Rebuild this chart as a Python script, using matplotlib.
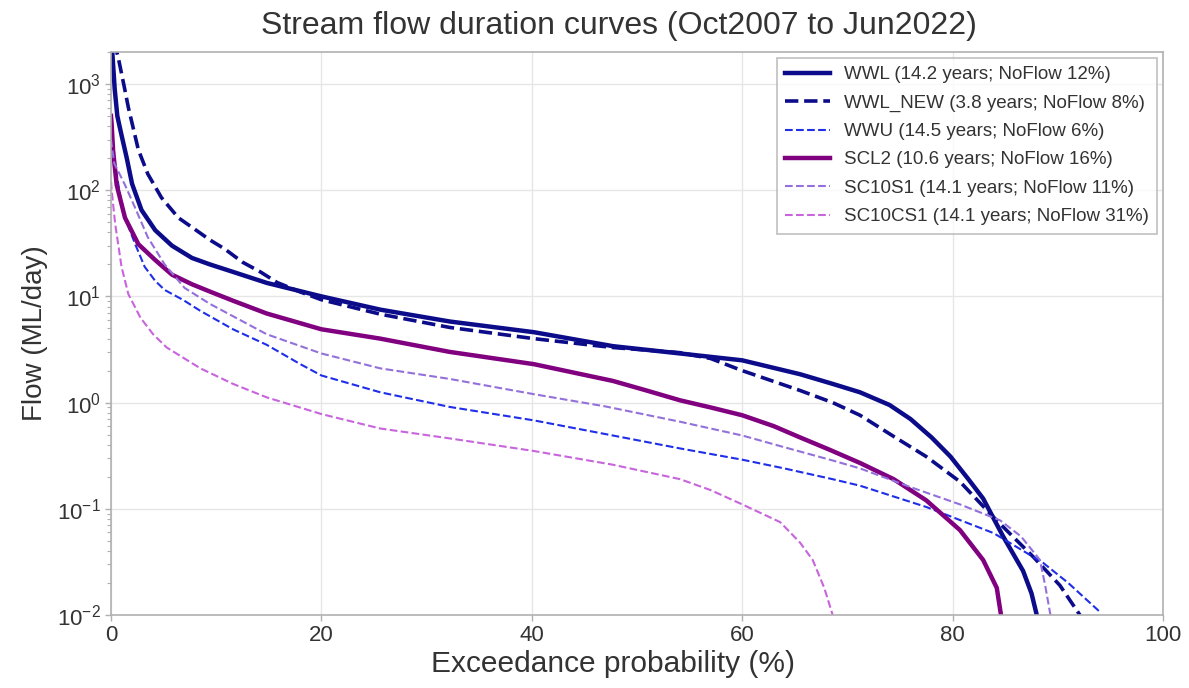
import matplotlib
matplotlib.use("Agg")
import matplotlib.pyplot as plt
from matplotlib.ticker import LogLocator, NullFormatter

plt.rcParams['font.family'] = ['Liberation Sans', 'DejaVu Sans']
plt.rcParams['mathtext.default'] = 'regular'

# ---- data (exceedance %, flow ML/day) ----
wwl_x = [0, 0.12, 0.35, 0.6, 1.0, 1.5, 2.0, 2.9, 4.2, 5.8, 7.7, 9.4, 11.6, 14.8, 20, 25.6, 28.5,
         32.2, 40.2, 47.7, 54.1, 60, 65.5, 68.6, 71.2, 74, 76, 78, 79.8, 81.5, 82.9, 84.8,
         86.7, 87.5, 88.0]
wwl_y = [2500, 2000, 900, 500, 330, 200, 115, 65, 42, 30, 23, 20, 17, 13.4, 10, 7.5, 6.7,
         5.8, 4.6, 3.4, 2.9, 2.5, 1.85, 1.5, 1.25, 0.95, 0.7, 0.47, 0.31, 0.19, 0.125, 0.055,
         0.026, 0.016, 0.01]

wwln_x = [0.3, 0.7, 1.3, 1.65, 2.6, 3.5, 4.8, 6.4, 7.8, 9.4, 10.8, 12.5, 14.2, 15.8, 18, 20,
          25.6, 32.2, 40.2, 47.7, 54.1, 57, 60, 65.5, 68.6, 71.2, 74.4, 77.5, 80.7, 83.9,
          87.7, 90.2, 92.1]
wwln_y = [2500, 1750, 900, 600, 240, 142, 85, 55, 44, 34, 28, 21, 17, 13.5, 11, 9.3,
          6.8, 5.1, 4.0, 3.3, 2.95, 2.6, 2.0, 1.3, 1.0, 0.76, 0.48, 0.31, 0.18, 0.083,
          0.035, 0.019, 0.01]

wwu_x = [0, 0.3, 0.86, 1.33, 2.3, 3.2, 4.2, 5.1, 6.9, 8.5, 11.6, 14.8, 18, 20, 25.6, 32.2,
         40.2, 47.7, 54.1, 60, 64, 68.6, 71.2, 77.5, 83.9, 88.6, 91, 94]
wwu_y = [400, 200, 90, 55, 31, 19, 14, 11.5, 9.2, 7.3, 4.9, 3.5, 2.3, 1.8, 1.25, 0.91,
         0.68, 0.49, 0.37, 0.29, 0.24, 0.19, 0.165, 0.104, 0.059, 0.031, 0.02, 0.0107]

scl2_x = [0, 0.06, 0.2, 0.54, 1.33, 2.6, 4.2, 5.8, 7.7, 9.5, 11.6, 14.8, 20, 25.6, 32.2, 40.2,
          47.7, 50.9, 54.1, 57, 60, 63, 65.5, 68.3, 71.2, 74.4, 77.5, 80.7, 82.9, 84.2, 84.6]
scl2_y = [500, 420, 235, 112, 55, 31, 22, 16, 13, 11, 9.1, 6.9, 4.9, 4.0, 3.0, 2.3,
          1.6, 1.3, 1.05, 0.9, 0.76, 0.6, 0.47, 0.36, 0.27, 0.19, 0.12, 0.063, 0.033, 0.018, 0.01]

sc10s1_x = [0, 0.3, 1.33, 2.3, 3.5, 5.1, 7.0, 9.4, 11.6, 14.8, 20, 25.6, 32.2, 40.2, 47, 54.1,
            60, 64, 68.6, 71.2, 76, 80.7, 84.5, 86.5, 88.3, 88.8, 89.3]
sc10s1_y = [300, 180, 112, 68, 36, 20, 12, 8.5, 6.5, 4.4, 2.9, 2.1, 1.67, 1.2, 0.92, 0.66,
            0.49, 0.38, 0.285, 0.24, 0.16, 0.11, 0.078, 0.055, 0.033, 0.019, 0.01]

sc10cs1_x = [0, 0.06, 0.4, 1.0, 1.65, 2.8, 4.0, 5.3, 8.5, 11.6, 14.8, 20, 25.6, 32.2, 40.2,
             47.7, 54.1, 57, 60, 63.6, 65.5, 66.7, 67.8, 68.6]
sc10cs1_y = [120, 100, 48, 19, 10.5, 6.3, 4.4, 3.3, 2.1, 1.5, 1.12, 0.78, 0.57, 0.46, 0.35,
             0.26, 0.19, 0.15, 0.11, 0.075, 0.048, 0.033, 0.018, 0.01]

labels = ["WWL (14.2 years; NoFlow 12%)",
          "WWL_NEW (3.8 years; NoFlow 8%)",
          "WWU (14.5 years; NoFlow 6%)",
          "SCL2 (10.6 years; NoFlow 16%)",
          "SC10S1 (14.1 years; NoFlow 11%)",
          "SC10CS1 (14.1 years; NoFlow 31%)"]

series = [
    (wwl_x, wwl_y, dict(color='#0c0c8a', lw=3.2, ls='-')),
    (wwln_x, wwln_y, dict(color='#0c0c8a', lw=2.6, ls='--')),
    (wwu_x, wwu_y, dict(color='#1f2ee8', lw=1.5, ls='--')),
    (scl2_x, scl2_y, dict(color='#800080', lw=3.2, ls='-')),
    (sc10s1_x, sc10s1_y, dict(color='#9370db', lw=1.5, ls='--')),
    (sc10cs1_x, sc10cs1_y, dict(color='#c864dc', lw=1.5, ls='--')),
]

fig = plt.figure(figsize=(11.89, 6.88), dpi=100)
ax = fig.add_axes([111/1189, 1-615/688, (1163-111)/1189, (615-52)/688])

for (x, y, st), lab in zip(series, labels):
    ax.plot(x, y, label=lab, **st)

ax.set_yscale('log')
ax.set_xlim(0, 100)
ax.set_ylim(0.01, 2000)
ax.set_xticks([0, 20, 40, 60, 80, 100])
ax.yaxis.set_minor_locator(LogLocator(base=10, subs=range(2, 10)))
ax.yaxis.set_minor_formatter(NullFormatter())

ax.grid(True, which='major', color='#e6e6e6', lw=1.0)
ax.set_axisbelow(True)
for s in ax.spines.values():
    s.set_color('#b0b0b0')
    s.set_linewidth(1.2)
ax.tick_params(axis='both', which='major', colors='#b0b0b0', labelcolor='#333333',
               labelsize=16, length=4, width=1)
ax.tick_params(axis='y', which='minor', colors='#b0b0b0', length=3, width=0.8)

fig.text(619/1189, 1-26/688, "Stream flow duration curves (Oct2007 to Jun2022)",
         fontsize=23, color='#333333', ha='center', va='center')
ax.set_xlabel("Exceedance probability (%)", fontsize=21.5, color='#333333')
ax.xaxis.set_label_coords((613-111)/(1163-111), -0.062)
ax.set_ylabel("Flow (ML/day)", fontsize=20, color='#333333', labelpad=6)

leg = ax.legend(loc='upper right', fontsize=13.5, handlelength=2.4, handletextpad=0.75,
                frameon=True, fancybox=False, edgecolor='#b0b0b0', borderpad=0.45,
                labelspacing=0.6, borderaxespad=0.3)
leg.get_frame().set_linewidth(1.2)
for t in leg.get_texts():
    t.set_color('#333333')

fig.savefig("out.png", dpi=100)
